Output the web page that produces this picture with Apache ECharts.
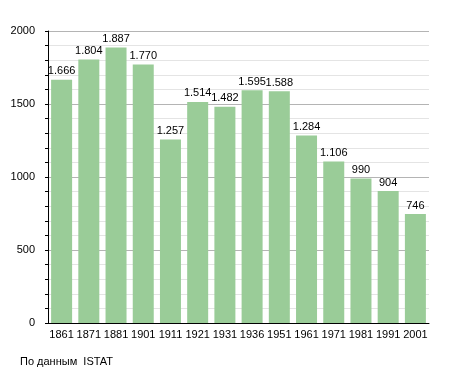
<!DOCTYPE html>
<html><head><meta charset="utf-8">
<script src="https://cdn.jsdelivr.net/npm/echarts@6/dist/echarts.min.js"></script>
<style>html,body{margin:0;padding:0;background:#fff}#c{width:455px;height:373px}</style>
</head><body><div id="c"></div>
<script>
var years = ['1861','1871','1881','1901','1911','1921','1931','1936','1951','1961','1971','1981','1991','2001'];
var population = [1666,1804,1887,1770,1257,1514,1482,1595,1588,1284,1106,990,904,746];
var yTicks = [0,500,1000,1500,2000];
var sourceNote = 'По данным  ISTAT';

function fmt(v){ return String(v).replace(/\B(?=(\d{3})+(?!\d))/g,'.'); }

var chart = echarts.init(document.getElementById('c'));
chart.setOption({
  animation:false,
  textStyle:{fontFamily:'Liberation Sans, Arial, sans-serif'},
  grid:{left:48,right:26,top:31,bottom:50},
  xAxis:{type:'category',data:years,
    axisLine:{lineStyle:{color:'#000',width:1}},
    axisTick:{show:false},
    axisLabel:{color:'#000',fontSize:11,margin:6,interval:0}},
  yAxis:{type:'value',min:yTicks[0],max:yTicks[yTicks.length-1],interval:500,
    axisLine:{show:true,lineStyle:{color:'#000'}},
    axisTick:{show:true,length:3,lineStyle:{color:'#000'}},
    minorTick:{show:true,splitNumber:5,length:3,lineStyle:{color:'#000'}},
    axisLabel:{color:'#000',fontSize:11,margin:13,formatter:function(v){return String(v);}},
    splitLine:{lineStyle:{color:'#b4b4b4',width:1}},
    minorSplitLine:{show:true,lineStyle:{color:'#e4e4e4',width:1}}},
  series:[{type:'bar',data:population,barWidth:21,
    itemStyle:{color:'#9acc98'},
    label:{show:true,position:'top',distance:3,color:'#000',fontSize:11,
      formatter:function(p){return fmt(p.value);}}}],
  graphic:[{type:'text',left:20,top:356,style:{text:sourceNote,fontSize:11,fill:'#000',fontFamily:'Liberation Sans, Arial, sans-serif'}}]
});
</script></body></html>
